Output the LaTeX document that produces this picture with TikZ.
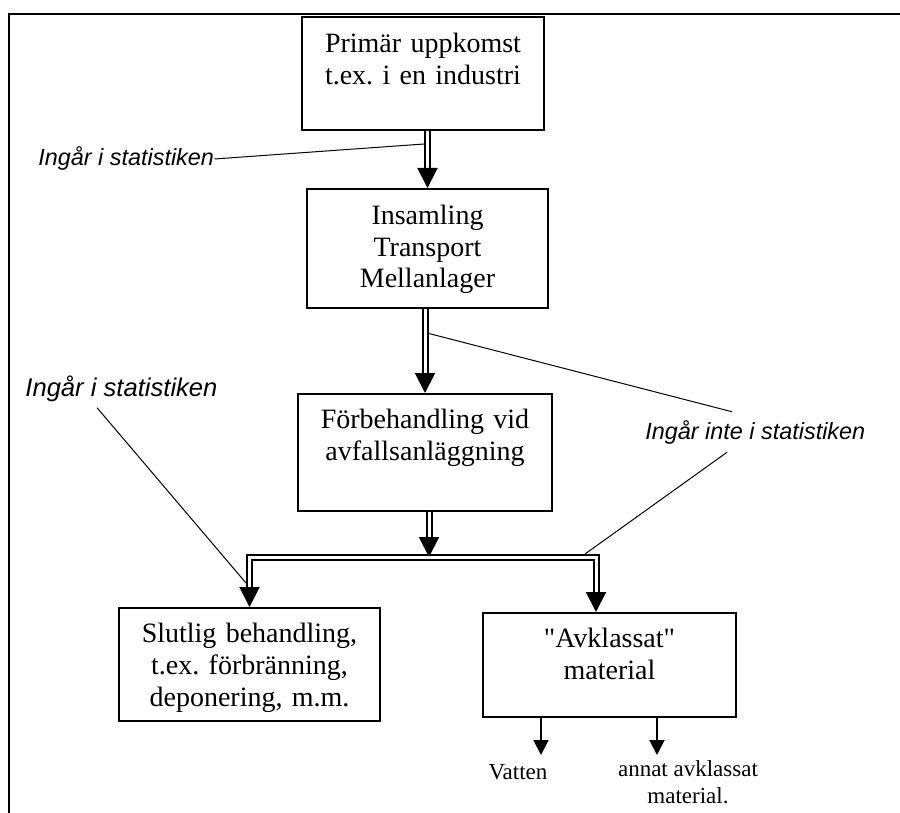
\documentclass[tikz,border=0pt]{standalone}
\usepackage{fontspec}
\setmainfont{Liberation Serif}[Ligatures=TeXOff]
\newfontfamily\labelfont{Liberation Sans}
\usetikzlibrary{arrows.meta,calc}
\frenchspacing

\begin{document}
\begin{tikzpicture}[x=0.5pt, y=-0.5pt,
    box/.style={draw, line width=0.8pt, align=center, anchor=north, inner xsep=0pt, inner ysep=0pt,
        font=\fontsize{14pt}{15.8pt}\selectfont},
    flow/.style={draw, double, line width=1pt, double distance=1.5pt, shorten >=9pt},
    bigtip/.style={line width=1pt, -{Triangle[width=10pt,length=10pt]}},
    smalltip/.style={line width=1pt, -{Triangle[width=7.5pt,length=7.5pt]}},
    note/.style={font=\labelfont\itshape\fontsize{11.7pt}{14pt}\selectfont, inner sep=0pt, anchor=base west},
    leader/.style={line width=0.5pt},
    outtext/.style={align=center, inner sep=0pt, anchor=base, font=\fontsize{11.5pt}{13.5pt}\selectfont}]
    \useasboundingbox (0,0) rectangle (900,813);

    % Frame (top and left only)
    \draw[line width=1.25pt] (9,813) -- (9,14) -- (900,14);

    % Boxes
    \node[box, text width=121pt, text height=18pt, text depth=38.5pt] (prim) at (423,16)
        {Primär uppkomst\\t.ex. i en industri};
    \node[box, text width=120.5pt, text height=18pt, text depth=41.5pt] (insam) at (427.5,188)
        {Insamling\\Transport\\Mellanlager};
    \node[box, text width=127pt, text height=17.5pt, text depth=41pt] (forb) at (425,393)
        {Förbehandling vid\\avfallsanläggning};
    \node[box, text width=130.5pt, text height=17.5pt, text depth=39pt] (slut) at (249.5,607)
        {Slutlig behandling,\\t.ex. förbränning,\\deponering, m.m.};
    \node[box, text width=126.5pt, text height=17.5pt, text depth=34.5pt] (avkl) at (609.5,612)
        {"Avklassat"\\material};

    % Double arrows
    \coordinate (split) at (429,557);
    \coordinate (barR) at (596,557);
    \draw[flow] (insam.north |- prim.south) -- (insam.north);
    \draw[bigtip] ($(insam.north)+(0,-20)$) -- (insam.north);
    \draw[flow] (forb.north |- insam.south) -- (forb.north);
    \draw[bigtip] ($(forb.north)+(0,-20)$) -- (forb.north);
    \draw[flow] (split |- forb.south) -- (split);
    \draw[bigtip] ($(split)+(0,-20)$) -- (split);
    \draw[flow, shorten <=9pt] (slut.north) -- (slut.north |- split) -- (barR) -- (barR |- avkl.north);
    \draw[bigtip] ($(slut.north)+(0,-20)$) -- (slut.north);
    \draw[bigtip] ($(barR |- avkl.north)+(0,-20)$) -- (barR |- avkl.north);

    % Outputs of the declassified material
    \coordinate (vtip) at (541,755);
    \coordinate (atip) at (657,755);
    \draw[smalltip] (avkl.south -| vtip) -- (vtip);
    \draw[smalltip] (avkl.south -| atip) -- (atip);
    \node[outtext] (vatten) at (518,779) {Vatten};
    \node[outtext] (annat) at (688,803) {annat avklassat\\material.};

    % Statistics notes
    \node[note] (lab1) at (38,166) {Ingår i statistiken};
    \node[note] (lab2) at (645,439) {Ingår inte i statistiken};
    \node[note, font=\labelfont\itshape\fontsize{12.8pt}{14pt}\selectfont] (lab3) at (25,396) {Ingår i statistiken};
    \coordinate (n1) at (424,144);
    \coordinate (n2) at (427,333);
    \coordinate (n3) at (585,554);
    \coordinate (n4) at (246,583);
    \draw[leader] (lab1.east) -- (n1);
    \draw[leader] ([shift={(87,-8)}]lab2.north west) -- (n2);
    \draw[leader] ([shift={(82,8)}]lab2.south west) -- (n3);
    \draw[leader] ([shift={(72,6)}]lab3.south west) -- (n4);

\end{tikzpicture}
\end{document}
